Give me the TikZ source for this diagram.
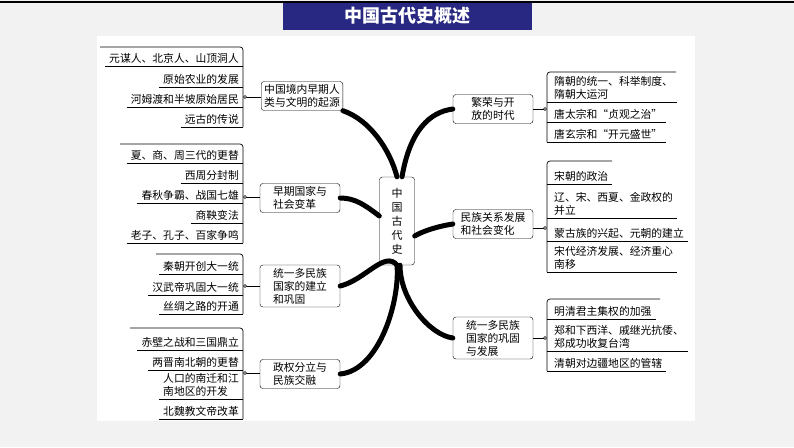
\documentclass[tikz,border=0pt]{standalone}
\usepackage{fontspec}
\setmainfont{Noto Sans CJK SC}
\begin{document}
\begin{tikzpicture}[x=1pt,y=-1pt,
  box/.style={draw,rounded corners=3pt,fill=white,align=left,font=\fontsize{10.8}{13}\selectfont,inner sep=3pt,minimum width=80pt},
  leaf/.style={font=\fontsize{10.8}{13}\selectfont,inner sep=2pt,align=left},
  br/.style={line width=0.7pt,rounded corners=3pt},
  ul/.style={line width=0.7pt},
  trunk/.style={line width=5pt,line cap=round}]
\useasboundingbox (0,0) rectangle (794,447);
\fill[gray!10] (0,0) rectangle (794,447);
\fill[white] (97,36) rectangle (695,421);
\draw[line width=1.5pt] (0,2) -- (794,2);
\node[fill={rgb,255:red,40;green,40;blue,130},minimum width=249pt,minimum height=27pt,text=white,font=\bfseries\fontsize{18}{20}\selectfont] (title) at (407,16) {中国古代史概述};
% centre
\node[draw,rounded corners=3pt,fill=white,minimum width=35pt,minimum height=88pt,align=center,font=\fontsize{11}{14}\selectfont] (c) at (397,221) {中\\国\\古\\代\\史};
% branch boxes
\node[box] (b1) at (302,96) {中国境内早期人\\类与文明的起源};
\node[box] (b2) at (300,198) {早期国家与\\社会变革};
\node[box] (b3) at (300,286) {统一多民族\\国家的建立\\和巩固};
\node[box] (b4) at (300,374) {政权分立与\\民族交融};
\node[box] (r1) at (493,109) {繁荣与开\\放的时代};
\node[box] (r2) at (493,224) {民族关系发展\\和社会变化};
\node[box] (r3) at (493,338) {统一多民族\\国家的巩固\\与发展};
% trunks
\begin{scope}[trunk]
\draw (c.north) .. controls (390,150) and (370,120) .. (b1.south east);
\draw (c.west) ++(0,-5) .. controls (365,205) and (355,198) .. (b2.east);
\draw (c.south) .. controls (385,250) and (365,280) .. (b3.east);
\draw (c.south) .. controls (400,300) and (380,370) .. (b4.east);
\draw (c.north) ++(5,0) .. controls (410,130) and (430,112) .. (r1.west);
\draw (c.east) ++(0,15) .. controls (425,230) and (440,226) .. (r2.west);
\draw (c.south) ++(3,0) .. controls (400,300) and (430,335) .. (r3.west);
\end{scope}
% left leaves
\foreach \nm/\y/\t in {a1/66/元谋人、北京人、山顶洞人, a2/87/原始农业的发展, a3/107/河姆渡和半坡原始居民, a4/127/远古的传说,
  e1/163/夏、商、周三代的更替, e2/183/西周分封制, e3/203/春秋争霸、战国七雄, e4/223/商鞅变法, e5/243/老子、孔子、百家争鸣,
  f1/274/秦朝开创大一统, f2/295/汉武帝巩固大一统, f3/314/丝绸之路的开通,
  g1/350/赤壁之战和三国鼎立, g2/370/两晋南北朝的更替, g3/399/{人口的南迁和江\\南地区的开发}, g4/419/北魏教文帝改革}
{ \node[leaf,anchor=south east] (\nm) at (241,\y) {\t};
  \draw[ul] (\nm.south west) ++(-2,0) -- (243,\y); }
\draw[br] (243,127) -- (243,47) -- (100,47);
\draw[br] (243,243) -- (243,144) -- (120,144);
\draw[br] (243,314) -- (243,254) -- (156,254);
\draw[br] (243,419) -- (243,328) -- (130,328);
% right leaves
\foreach \nm/\y/\t in {h1/102/{隋朝的统一、科举制度、\\隋朝大运河}, h2/122/唐太宗和“贞观之治”, h3/142/唐玄宗和“开元盛世”,
  k1/184/宋朝的政治, k2/218/{辽、宋、西夏、金政权的\\并立}, k3/241/蒙古族的兴起、元朝的建立, k4/272/{宋代经济发展、经济重心\\南移},
  m1/319/明清君主集权的加强, m2/351/{郑和下西洋、戚继光抗倭、\\郑成功收复台湾}, m3/371/清朝对边疆地区的管辖}
{ \node[leaf,anchor=south west] (\nm) at (552,\y) {\t};
  \draw[ul] (547,\y) -- ([xshift=2pt]\nm.south east); }
\draw[br] (547,142) -- (547,72) -- (676,72);
\draw[br] (547,272) -- (547,161) -- (612,161);
\draw[br] (547,371) -- (547,299) -- (660,299);
% connectors with dots
\foreach \bx/\y/\x in {b1/97/245, b2/197/245, b3/286/245, b4/373/245}
{ \coordinate (d\bx) at (\x,\y); \draw[line width=0.7pt] (d\bx) -- (\bx.west |- d\bx); \draw[fill=white] (d\bx) circle (1.5pt); }
\foreach \bx/\y/\x in {r1/109/545, r2/228/545, r3/338/545}
{ \coordinate (d\bx) at (\x,\y); \draw[line width=0.7pt] (d\bx) -- (\bx.east |- d\bx); \draw[fill=white] (d\bx) circle (1.5pt); }
\end{tikzpicture}
\end{document}
